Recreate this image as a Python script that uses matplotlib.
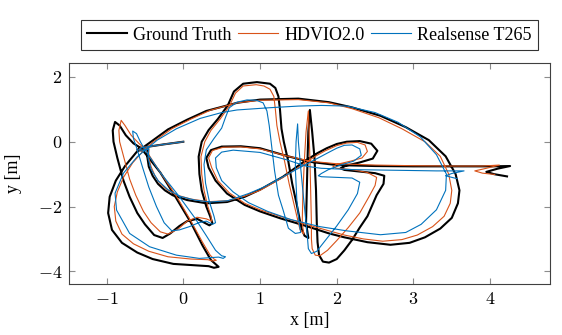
import numpy as np
import matplotlib
matplotlib.use("Agg")
import matplotlib.pyplot as plt

plt.rcParams['font.family'] = ['Liberation Serif', 'DejaVu Serif']
plt.rcParams['mathtext.fontset'] = 'cm'

# trajectories (x [m], y [m])
gt_xy = [
    (0.0, 0.0), (-0.25, -0.08), (-0.45, -0.15), (-0.56, -0.19), (-0.6, -0.25), (-0.52, -0.28), (-0.46, -0.22),
    (-0.47, -0.45), (-0.45, -0.77), (-0.4, -1.05), (-0.33, -1.3), (-0.24, -1.5), (-0.14, -1.65), (0.05, -1.8),
    (0.3, -1.9), (0.57, -1.86), (0.8, -1.7), (1.0, -1.48), (1.3, -1.08), (1.57, -0.62), (1.75, -0.35),
    (1.87, -0.2), (2.0, -0.07), (2.13, 0.0), (2.3, 0.02), (2.45, -0.06), (2.53, -0.28), (2.47, -0.52),
    (2.3, -0.64), (2.12, -0.74), (2.05, -0.82), (2.1, -0.87),
    (2.3, -0.92), (2.5, -0.97), (2.62, -1.05), (2.61, -1.3), (2.52, -1.65), (2.4, -2.3), (2.3, -2.65),
    (2.2, -3.03), (2.1, -3.35), (2.0, -3.62), (1.9, -3.73), (1.82, -3.7), (1.77, -3.5), (1.75, -3.1),
    (1.74, -2.5), (1.73, -1.5), (1.71, -0.5), (1.68, 0.3), (1.65, 0.98),
    (1.63, 0.3), (1.62, -0.5), (1.61, -1.5), (1.6, -2.5), (1.63, -2.97),
    (1.58, -2.9), (1.54, -2.67), (1.48, -1.95), (1.42, -1.3), (1.37, -0.62), (1.31, 0.0), (1.28, 0.4),
    (1.26, 1.0), (1.24, 1.4), (1.2, 1.66), (1.13, 1.79), (0.96, 1.84), (0.78, 1.79), (0.66, 1.55),
    (0.58, 1.12), (0.45, 0.7), (0.33, 0.36), (0.24, 0.0), (0.2, -0.46), (0.21, -1.0), (0.24, -1.5),
    (0.3, -2.0), (0.35, -2.3), (0.38, -2.52), (0.34, -2.58), (0.18, -2.38), (0.05, -2.45),
    (-0.05, -2.6), (-0.17, -2.83), (-0.27, -2.97), (-0.38, -2.88), (-0.5, -2.55), (-0.6, -2.2),
    (-0.7, -1.7), (-0.78, -1.2), (-0.86, -0.5), (-0.91, 0.0), (-0.92, 0.35), (-0.89, 0.61), (-0.83, 0.5),
    (-0.75, 0.2), (-0.65, -0.05), (-0.55, -0.2),
    (-0.3, -0.95), (-0.09, -1.75), (0.1, -2.5), (0.25, -3.2), (0.36, -3.65), (0.43, -3.8), (0.46, -3.86),
    (0.4, -3.89), (0.33, -3.84),
    (0.2, -3.82), (-0.13, -3.77), (-0.4, -3.62), (-0.6, -3.42), (-0.8, -3.12), (-0.93, -2.72), (-0.98, -2.2),
    (-0.96, -1.7), (-0.88, -1.2), (-0.76, -0.75), (-0.61, -0.32), (-0.45, -0.05), (-0.2, 0.38), (0.05, 0.68),
    (0.3, 0.95), (0.7, 1.2), (1.0, 1.3), (1.5, 1.33), (1.9, 1.22), (2.2, 1.06), (2.57, 0.8), (2.9, 0.45),
    (3.2, 0.05), (3.42, -0.45), (3.55, -1.0), (3.6, -1.5), (3.58, -1.9), (3.5, -2.35), (3.35, -2.68),
    (3.15, -2.95), (2.95, -3.12), (2.7, -3.18), (2.4, -3.1), (2.1, -2.95), (1.9, -2.83), (1.6, -2.6),
    (1.26, -2.36), (1.0, -2.15), (0.8, -1.95), (0.57, -1.6), (0.42, -1.2), (0.33, -0.8), (0.3, -0.5),
    (0.36, -0.26), (0.5, -0.15), (0.75, -0.14), (1.0, -0.2), (1.35, -0.44), (1.65, -0.62), (2.0, -0.72),
    (2.5, -0.75), (3.0, -0.76), (3.5, -0.76), (4.0, -0.76), (4.26, -0.75), (4.1, -0.83), (3.95, -0.93),
    (4.05, -1.0), (4.22, -1.07),
]

hdvio_xy = [
    (0.0, 0.0), (-0.25, -0.08), (-0.45, -0.15), (-0.55, -0.18), (-0.58, -0.25), (-0.5, -0.27), (-0.45, -0.2),
    (-0.45, -0.5), (-0.42, -0.77), (-0.37, -1.05), (-0.3, -1.3), (-0.2, -1.5), (-0.08, -1.65), (0.1, -1.77),
    (0.33, -1.85), (0.58, -1.82), (0.8, -1.68), (1.0, -1.5), (1.3, -1.1), (1.55, -0.72), (1.72, -0.45),
    (1.85, -0.28), (2.0, -0.12), (2.13, -0.04), (2.27, -0.02), (2.37, -0.1), (2.4, -0.3), (2.33, -0.5),
    (2.18, -0.6), (2.0, -0.7), (1.95, -0.77), (2.0, -0.82),
    (2.2, -0.86), (2.4, -0.95), (2.52, -1.1), (2.5, -1.35), (2.42, -1.7), (2.3, -2.2), (2.15, -2.65),
    (2.0, -3.05), (1.88, -3.35), (1.78, -3.52), (1.72, -3.5), (1.68, -3.3), (1.67, -3.0),
    (1.67, -2.5), (1.66, -1.5), (1.65, -0.5), (1.64, 0.3), (1.63, 0.95),
    (1.6, 0.3), (1.58, -0.5), (1.56, -1.5), (1.55, -2.5), (1.57, -2.85),
    (1.52, -2.7), (1.45, -2.0), (1.38, -1.3), (1.32, -0.6), (1.26, 0.0), (1.22, 0.5), (1.2, 1.0),
    (1.18, 1.4), (1.13, 1.62), (1.05, 1.72), (0.95, 1.76), (0.78, 1.72), (0.68, 1.5), (0.6, 1.1),
    (0.48, 0.7), (0.36, 0.35), (0.28, 0.0), (0.23, -0.46), (0.24, -1.0), (0.27, -1.5), (0.32, -2.0),
    (0.36, -2.28), (0.37, -2.45), (0.3, -2.38), (0.18, -2.33), (0.05, -2.45),
    (-0.07, -2.7), (-0.2, -2.85), (-0.3, -2.78), (-0.42, -2.5), (-0.52, -2.15), (-0.62, -1.65),
    (-0.7, -1.15), (-0.78, -0.45), (-0.83, 0.0), (-0.84, 0.35), (-0.81, 0.66), (-0.76, 0.5),
    (-0.68, 0.2), (-0.58, -0.05), (-0.5, -0.22),
    (-0.3, -0.95), (-0.08, -1.72), (0.1, -2.45), (0.25, -3.1), (0.35, -3.5), (0.4, -3.62), (0.43, -3.66),
    (0.38, -3.68), (0.32, -3.64),
    (0.1, -3.62), (-0.2, -3.55), (-0.45, -3.38), (-0.65, -3.15), (-0.8, -2.85), (-0.88, -2.45), (-0.9, -2.0),
    (-0.86, -1.55), (-0.78, -1.1), (-0.66, -0.65), (-0.52, -0.28), (-0.4, -0.02), (-0.15, 0.4), (0.1, 0.7),
    (0.35, 0.97), (0.7, 1.2), (1.0, 1.28), (1.5, 1.3), (1.9, 1.2), (2.2, 1.02), (2.55, 0.74), (2.85, 0.4),
    (3.15, 0.0), (3.35, -0.45), (3.46, -1.0), (3.5, -1.5), (3.48, -1.9), (3.4, -2.3), (3.25, -2.62),
    (3.05, -2.88), (2.85, -3.02), (2.6, -3.07), (2.35, -3.0), (2.1, -2.88), (1.9, -2.75), (1.6, -2.55),
    (1.26, -2.3), (1.0, -2.1), (0.8, -1.9), (0.6, -1.58), (0.45, -1.2), (0.37, -0.8), (0.33, -0.5),
    (0.38, -0.27), (0.52, -0.17), (0.75, -0.16), (1.0, -0.22), (1.35, -0.44), (1.65, -0.6), (2.0, -0.68),
    (2.5, -0.72), (3.0, -0.74), (3.5, -0.75), (3.9, -0.75), (4.12, -0.72), (3.95, -0.82), (3.8, -0.9),
    (3.9, -0.97), (4.06, -1.01),
]

t265_xy = [
    (0.0, 0.0), (-0.25, -0.08), (-0.45, -0.15), (-0.55, -0.19), (-0.58, -0.25), (-0.5, -0.27), (-0.45, -0.22),
    (-0.46, -0.5), (-0.42, -0.85), (-0.33, -1.2), (-0.2, -1.48), (-0.05, -1.68), (0.15, -1.8), (0.35, -1.86),
    (0.58, -1.82), (0.85, -1.6), (1.05, -1.4), (1.3, -1.08), (1.55, -0.76), (1.72, -0.55), (1.87, -0.36),
    (2.0, -0.2), (2.1, -0.11), (2.2, -0.1), (2.3, -0.22), (2.32, -0.42), (2.22, -0.6), (2.05, -0.72),
    (1.9, -0.85), (1.8, -0.98), (1.76, -1.05), (1.8, -1.08),
    (2.0, -1.1), (2.2, -1.12), (2.3, -1.25), (2.27, -1.6), (2.15, -2.1), (2.0, -2.6), (1.85, -3.05),
    (1.74, -3.38), (1.67, -3.45), (1.63, -3.3), (1.62, -3.0),
    (1.6, -2.5), (1.57, -1.8), (1.53, -0.8), (1.5, 0.0), (1.49, 0.55),
    (1.47, 0.0), (1.46, -0.8), (1.48, -1.8), (1.51, -2.5), (1.53, -2.8),
    (1.46, -2.83), (1.37, -2.67), (1.3, -2.1), (1.24, -1.65), (1.19, -0.9), (1.15, -0.1), (1.12, 0.5),
    (1.09, 0.95), (1.04, 1.2), (0.95, 1.28), (0.83, 1.29), (0.7, 1.22), (0.6, 1.05), (0.55, 0.75),
    (0.5, 0.42), (0.4, 0.1), (0.3, -0.25), (0.27, -0.7), (0.29, -1.28), (0.34, -1.85), (0.4, -2.3),
    (0.42, -2.5), (0.38, -2.55), (0.3, -2.45), (0.2, -2.5), (0.08, -2.62),
    (-0.05, -2.72), (-0.15, -2.75), (-0.25, -2.5), (-0.35, -2.0), (-0.45, -1.4), (-0.53, -0.8),
    (-0.6, -0.25), (-0.65, 0.1), (-0.66, 0.33), (-0.61, 0.25), (-0.56, 0.0), (-0.5, -0.25),
    (-0.3, -0.95), (-0.05, -1.7), (0.15, -2.35), (0.3, -2.9), (0.42, -3.35), (0.5, -3.52), (0.55, -3.55),
    (0.52, -3.6), (0.46, -3.56),
    (0.21, -3.6), (-0.09, -3.5), (-0.44, -3.24), (-0.7, -2.83), (-0.87, -2.11), (-0.89, -1.59),
    (-0.78, -0.97), (-0.6, -0.46), (-0.34, 0.05), (-0.09, 0.4), (0.22, 0.72), (0.5, 0.9), (0.7, 0.98),
    (1.13, 1.05), (1.5, 1.1), (1.8, 1.12), (2.13, 1.1), (2.5, 0.9), (2.8, 0.6), (3.09, 0.15), (3.3, -0.4),
    (3.43, -1.0), (3.42, -1.5), (3.3, -2.1), (3.1, -2.55), (2.9, -2.8), (2.57, -2.87), (2.13, -2.75),
    (1.78, -2.62), (1.4, -2.4), (1.1, -2.15), (0.85, -1.88), (0.65, -1.55), (0.5, -1.2), (0.43, -0.8),
    (0.42, -0.5), (0.5, -0.32), (0.65, -0.26), (1.0, -0.33), (1.35, -0.56), (1.61, -0.76), (1.8, -0.82),
    (2.2, -0.86), (2.8, -0.88), (3.3, -0.9), (3.66, -0.9), (3.5, -0.98), (3.42, -1.05), (3.5, -1.1),
    (3.57, -1.14),
]

series_names = ["Ground Truth", "HDVIO2.0", "Realsense T265"]
x_ticks = [-1, 0, 1, 2, 3, 4]
y_ticks = [-4, -2, 0, 2]

gt = np.array(gt_xy)
hd = np.array(hdvio_xy)
rs = np.array(t265_xy)

fig = plt.figure(figsize=(5.62, 3.35), dpi=100)
ax = fig.add_axes([0.1228, 0.1513, 0.8558, 0.6607])

ax.plot(gt[:, 0], gt[:, 1], color='black', lw=1.5, label=series_names[0], solid_joinstyle='round')
ax.plot(hd[:, 0], hd[:, 1], color='#D95319', lw=0.8, label=series_names[1], solid_joinstyle='round')
ax.plot(rs[:, 0], rs[:, 1], color='#0072BD', lw=0.8, label=series_names[2], solid_joinstyle='round')

ax.set_xlim(-1.49, 4.78)
ax.set_ylim(-4.40, 2.43)
ax.set_xticks(x_ticks)
ax.set_xticklabels([f'${v}$' for v in x_ticks])
ax.set_yticks(y_ticks)
ax.set_yticklabels([f'${v}$' for v in y_ticks])
ax.tick_params(direction='in', length=4, width=0.8, color='#8c8c8c', top=True, right=True,
               labelsize=13, pad=5)
for s in ax.spines.values():
    s.set_color('#404040')
    s.set_linewidth(0.8)

ax.set_xlabel('x [m]', fontsize=13, labelpad=3)
ax.set_ylabel('y [m]', fontsize=13, labelpad=11)

leg = fig.legend(loc='center', bbox_to_anchor=(0.5506, 0.8955), ncol=3, fontsize=13,
                 frameon=True, fancybox=False, edgecolor='black', handlelength=2.2,
                 handletextpad=0.35, columnspacing=0.35, borderpad=0.35, borderaxespad=0)
leg.get_frame().set_linewidth(0.8)

fig.savefig('out.png', dpi=100)
